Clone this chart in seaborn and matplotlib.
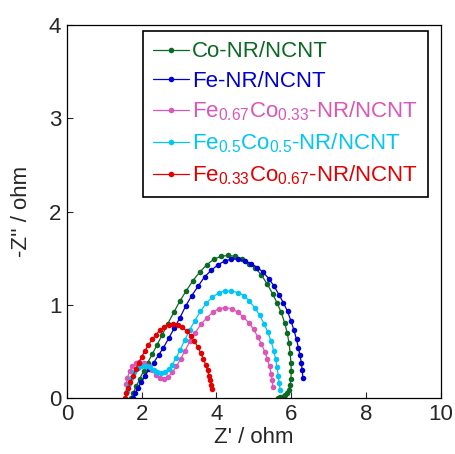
import matplotlib
matplotlib.use("Agg")
import matplotlib.pyplot as plt
import seaborn as sns
import pandas as pd

# Nyquist data (Z' and -Z'' in ohm)
co_x = [1.72, 1.78, 1.86, 1.95, 2.05, 2.16, 2.28, 2.41, 2.55, 2.70, 2.86, 3.02, 3.19, 3.37,
        3.55, 3.74, 3.93, 4.12, 4.31, 4.50, 4.68, 4.86, 5.03, 5.20, 5.36, 5.50, 5.62, 5.73,
        5.82, 5.89, 5.94, 5.97, 5.99, 6.00, 5.99, 5.97, 5.93, 5.88, 5.82, 5.76, 5.70, 5.64]
co_y = [0.00, 0.06, 0.13, 0.21, 0.29, 0.38, 0.47, 0.57, 0.68, 0.80, 0.92, 1.04, 1.15, 1.26,
        1.35, 1.43, 1.49, 1.52, 1.53, 1.52, 1.49, 1.44, 1.40, 1.32, 1.22, 1.12, 1.02, 0.92,
        0.81, 0.70, 0.59, 0.48, 0.38, 0.29, 0.21, 0.14, 0.09, 0.05, 0.03, 0.015, 0.008, 0.003]

fe_x = [1.76, 1.82, 1.90, 1.99, 2.09, 2.20, 2.32, 2.45, 2.58, 2.72, 2.87, 3.02, 3.18, 3.34,
        3.51, 3.68, 3.86, 4.04, 4.22, 4.40, 4.58, 4.76, 4.93, 5.09, 5.25, 5.40, 5.54, 5.67,
        5.79, 5.90, 5.99, 6.07, 6.14, 6.19, 6.23, 6.27, 6.29, 6.31]
fe_y = [0.00, 0.05, 0.11, 0.17, 0.24, 0.31, 0.38, 0.46, 0.54, 0.64, 0.75, 0.86, 0.99, 1.10,
        1.20, 1.30, 1.37, 1.43, 1.47, 1.49, 1.49, 1.47, 1.44, 1.40, 1.35, 1.28, 1.20, 1.11,
        1.02, 0.93, 0.83, 0.73, 0.63, 0.54, 0.46, 0.38, 0.30, 0.22]

fe67_x = [1.58, 1.62, 1.68, 1.75, 1.84, 1.94, 2.05, 2.16, 2.27, 2.38, 2.49, 2.60, 2.71, 2.82,
          2.93, 3.04, 3.16, 3.29, 3.43, 3.58, 3.74, 3.90, 4.07, 4.24, 4.41, 4.57, 4.72, 4.86,
          4.99, 5.10, 5.20, 5.29, 5.36, 5.42, 5.46, 5.49, 5.51]
fe67_y = [0.15, 0.22, 0.29, 0.34, 0.38, 0.39, 0.38, 0.35, 0.30, 0.25, 0.22, 0.21, 0.23, 0.28,
          0.34, 0.42, 0.51, 0.61, 0.70, 0.79, 0.86, 0.92, 0.96, 0.97, 0.96, 0.92, 0.87, 0.81,
          0.74, 0.66, 0.58, 0.50, 0.42, 0.34, 0.26, 0.19, 0.12]

fe50_x = [1.62, 1.66, 1.72, 1.80, 1.89, 1.99, 2.10, 2.21, 2.32, 2.42, 2.52, 2.62, 2.72, 2.82,
          2.92, 3.03, 3.15, 3.28, 3.42, 3.57, 3.73, 3.89, 4.06, 4.23, 4.40, 4.57, 4.73, 4.88,
          5.02, 5.15, 5.27, 5.37, 5.46, 5.53, 5.58, 5.62, 5.65, 5.68, 5.70]
fe50_y = [0.08, 0.15, 0.22, 0.28, 0.32, 0.35, 0.35, 0.33, 0.30, 0.28, 0.27, 0.28, 0.31, 0.36,
          0.43, 0.52, 0.62, 0.73, 0.83, 0.93, 1.02, 1.08, 1.13, 1.15, 1.15, 1.13, 1.10, 1.04,
          0.97, 0.89, 0.80, 0.71, 0.61, 0.51, 0.42, 0.33, 0.24, 0.16, 0.09]

fe33_x = [1.55, 1.59, 1.64, 1.70, 1.77, 1.84, 1.92, 2.00, 2.09, 2.18, 2.28, 2.38, 2.49, 2.60,
          2.72, 2.84, 2.96, 3.08, 3.20, 3.31, 3.41, 3.50, 3.58, 3.65, 3.71, 3.76, 3.80, 3.83,
          3.86, 3.88]
fe33_y = [0.00, 0.05, 0.11, 0.17, 0.24, 0.31, 0.38, 0.44, 0.51, 0.57, 0.63, 0.68, 0.73, 0.76,
          0.78, 0.79, 0.78, 0.76, 0.72, 0.67, 0.61, 0.55, 0.48, 0.42, 0.36, 0.30, 0.24, 0.19,
          0.14, 0.10]

labels = ["Co-NR/NCNT", "Fe-NR/NCNT",
          "Fe$_{0.67}$Co$_{0.33}$-NR/NCNT",
          "Fe$_{0.5}$Co$_{0.5}$-NR/NCNT",
          "Fe$_{0.33}$Co$_{0.67}$-NR/NCNT"]
colors = ["#0b6a22", "#0000d2", "#dc55b8", "#00c6f8", "#e40000"]
xs = [co_x, fe_x, fe67_x, fe50_x, fe33_x]
ys = [co_y, fe_y, fe67_y, fe50_y, fe33_y]

sns.set_style("ticks")
plt.rcParams["font.family"] = ["Liberation Sans", "DejaVu Sans"]
plt.rcParams["mathtext.default"] = "regular"

fig = plt.figure(figsize=(4.55, 4.54), dpi=100)
ax = fig.add_axes([0.147, 0.123, 0.822, 0.822])

for x, y, lab, c in zip(xs, ys, labels, colors):
    df = pd.DataFrame({"zr": x, "zi": y})
    sns.lineplot(data=df, x="zr", y="zi", sort=False, estimator=None, color=c,
                 marker="o", markersize=4, markeredgewidth=0, linewidth=0.9,
                 label=lab, ax=ax)

ax.set_xlim(0, 10)
ax.set_ylim(0, 4)
ax.set_xticks([0, 2, 4, 6, 8, 10])
ax.set_yticks([0, 1, 2, 3, 4])
ax.tick_params(direction="in", length=4, width=0.8, labelsize=16, pad=4)
ax.set_xlabel("Z' / ohm", fontsize=16, labelpad=2)
ax.set_ylabel("-Z'' / ohm", fontsize=16, labelpad=12)
for s in ax.spines.values():
    s.set_color("black")
    s.set_linewidth(0.9)

leg = ax.legend(loc="upper right", bbox_to_anchor=(0.965, 0.983), fontsize=16,
                frameon=True, fancybox=False, edgecolor="black", framealpha=1,
                handlelength=1.6, handletextpad=0.15, borderpad=0.45,
                labelspacing=0.37, borderaxespad=0)
leg.get_frame().set_linewidth(1.2)
for t, c in zip(leg.get_texts(), colors):
    t.set_color(c)

fig.savefig("out.png", dpi=100)
